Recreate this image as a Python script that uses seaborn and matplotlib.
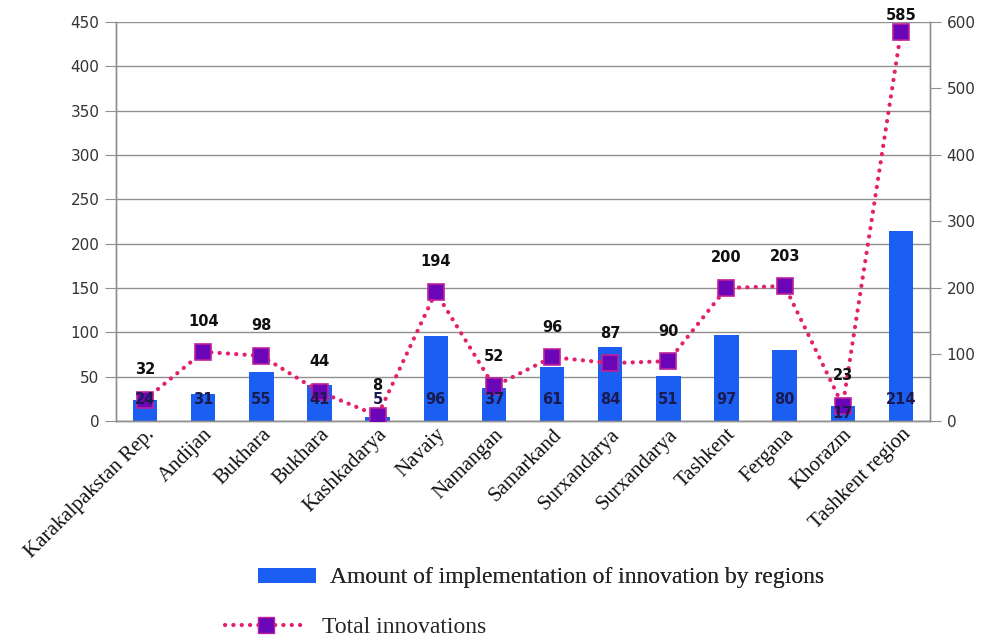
import numpy as np
import pandas as pd
import seaborn as sns
from matplotlib import pyplot as plt
from matplotlib.patches import Patch
from matplotlib.lines import Line2D

# data
regions = ["Karakalpakstan Rep.", "Andijan", "Bukhara", "Bukhara", "Kashkadarya",
           "Navaiy", "Namangan", "Samarkand", "Surxandarya", "Surxandarya",
           "Tashkent", "Fergana", "Khorazm", "Tashkent region"]
implementation = [24, 31, 55, 41, 5, 96, 37, 61, 84, 51, 97, 80, 17, 214]
total = [32, 104, 98, 44, 8, 194, 52, 96, 87, 90, 200, 203, 23, 585]
left_ticks = list(range(0, 451, 50))
right_ticks = list(range(0, 601, 100))

bar_name = "Amount of implementation of innovation by regions"
line_name = "Total innovations"

BLUE = "#1a5ff2"
PINK = "#e4206e"
PURPLE = "#6a05b8"
GRID = "#8f8f8f"
DOTS = (0, (0.05, 1.95))	#round dots
LW = 3.0

sns.set_style("white")
plt.rcParams["font.family"] = ["DejaVu Sans"]

df = pd.DataFrame({"pos": np.arange(len(regions)), "impl": implementation, "total": total})

fig = plt.figure(figsize=(9.86, 6.4), dpi=100)
ax = fig.add_axes([116/986, 1-421/640, (930-116)/986, (421-22)/640])
ax2 = ax.twinx()

sns.barplot(data=df, x="pos", y="impl", ax=ax, color=BLUE, saturation=1, width=0.42, zorder=2)
for p in ax.patches:
	p.set_edgecolor("none")
ax.set_xlim(-0.5, len(regions)-0.5)
ax.set_ylim(0, 450)
ax.set_yticks(left_ticks)
ax.yaxis.grid(True, color=GRID, lw=1)
ax.set_axisbelow(True)
ax.set_xlabel("")
ax.set_ylabel("")

ax.set_xticks(np.arange(len(regions)))
ax.set_xticklabels(regions, rotation=45, ha="right", rotation_mode="anchor",
	family="Liberation Serif", fontsize=15, color="#111111")
ax.set_xticks(np.arange(len(regions)-1)+0.5, minor=True)
ax.tick_params(axis="x", which="major", length=0, pad=3)
ax.tick_params(axis="x", which="minor", length=5, direction="in", color=GRID)
ax.tick_params(axis="y", length=8, color=GRID, labelsize=11, labelcolor="#333333", pad=4)

sns.lineplot(data=df, x="pos", y="total", ax=ax2, color=PINK, lw=LW, linestyle=DOTS,
	dash_capstyle="round", marker="s", markersize=11, markerfacecolor=PURPLE,
	markeredgecolor="#c0209a", markeredgewidth=1.2, zorder=5)
ax2.set_ylim(0, 600)
ax2.set_yticks(right_ticks)
ax2.set_ylabel("")
ax2.grid(False)
ax2.tick_params(axis="y", length=8, color=GRID, labelsize=11, labelcolor="#333333", pad=4)

for a in (ax, ax2):
	for side in ("left", "right", "bottom"):
		a.spines[side].set_color(GRID)
		a.spines[side].set_linewidth(1)
	a.spines["top"].set_visible(False)

# value labels (bar labels drawn on ax2 so they sit above the markers)
for i, v in enumerate(implementation):
	y = 24 if (v >= 20 or v < 10) else v/2
	ax2.text(i, y, str(v), transform=ax.transData, ha="center", va="center",
		fontsize=10.5, fontweight="bold", color="#1a1a50", zorder=6)
offsets = [30]*len(total)
offsets[-1] = 16
for i, v in enumerate(total):
	ax2.annotate(str(v), (i, v), xytext=(0, offsets[i]), textcoords="offset pixels",
		ha="center", va="center", fontsize=10.5, fontweight="bold", color="#111111",
		annotation_clip=False, zorder=6)

# legend, two separate entries below the chart
h1 = Patch(facecolor=BLUE, edgecolor="none")
h2 = Line2D([], [], color=PINK, lw=LW, linestyle=DOTS, dash_capstyle="round",
	marker="s", markersize=11, markerfacecolor=PURPLE, markeredgecolor="#c0209a")
leg1 = fig.legend([h1], [bar_name], loc="center left", bbox_to_anchor=(258/986, 1-578/640),
	frameon=False, borderpad=0, borderaxespad=0, handlelength=2.45, handleheight=0.6,
	handletextpad=0.6, prop={"family": "Liberation Serif", "size": 17})
leg2 = fig.legend([h2], [line_name], loc="center left", bbox_to_anchor=(225/986, 1-627/640),
	frameon=False, borderpad=0, borderaxespad=0, handlelength=3.5,
	handletextpad=0.6, prop={"family": "Liberation Serif", "size": 17})
fig.add_artist(leg1)

fig.savefig("out.png", dpi=100, facecolor="white")
